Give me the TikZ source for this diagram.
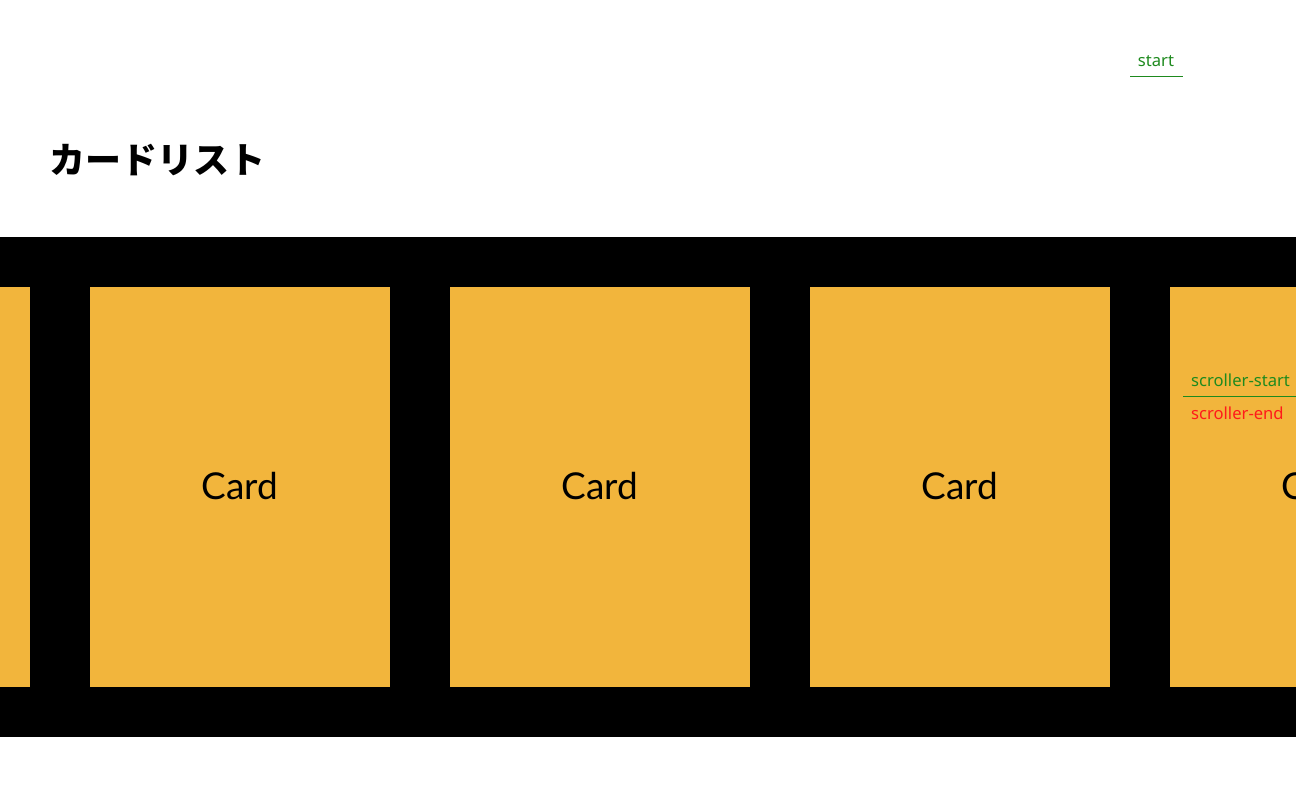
\documentclass[tikz,border=0pt]{standalone}
\usepackage{fontspec}
\newfontfamily\cardfont{Lato}
\newfontfamily\labelfont{Noto Sans}
\newfontfamily\jpfont{Noto Sans CJK JP}
\definecolor{cardorange}{HTML}{F2B53C}
\definecolor{markgreen}{HTML}{1E8A1E}
\definecolor{markred}{HTML}{FF1A1A}
\tikzset{
  card/.style={fill=cardorange, draw=none, minimum width=300pt, minimum height=400pt, inner sep=0pt},
  cardtext/.style={inner sep=0pt, text=black, font=\cardfont\fontsize{37}{37}\selectfont},
  marklabel/.style={inner sep=0pt, anchor=west, font=\labelfont\fontsize{16.6}{17}\selectfont},
  markline/.style={line width=1pt}
}
\begin{document}
\begin{tikzpicture}[x=1pt,y=-1pt]
\useasboundingbox (0,0) rectangle (1296,792);
\fill[white] (0,0) rectangle (1296,792);
\node[anchor=west, inner sep=0pt, font=\jpfont\bfseries\fontsize{36}{37}\selectfont] (title) at (49,160) {カードリスト};
\node[inner sep=0pt, font=\labelfont\fontsize{16.6}{17}\selectfont, text=markgreen] (start) at (1156,61) {start};
\coordinate (startL) at (1130,77);
\coordinate (startR) at (1183,77);
\draw[markline, markgreen] (startL) -- (startR);
\begin{scope}
\clip (0,0) rectangle (1296,792);
\fill[black] (0,237) rectangle (1296,737);
\node[card] (card0) at (-120,487) {};
\node[card] (card1) at (240,487) {};
\node[card] (card2) at (600,487) {};
\node[card] (card3) at (960,487) {};
\node[card] (card4) at (1320,487) {};
\node[cardtext] (t1) at (240,486) {Card};
\node[cardtext] (t2) at (600,486) {Card};
\node[cardtext] (t3) at (960,486) {Card};
\node[cardtext] (t4) at (1320,486) {Card};
\end{scope}
\node[marklabel, text=markgreen] (sstart) at (1191,380) {scroller-start};
\node[marklabel, text=markred] (send) at (1191,413) {scroller-end};
\coordinate (sL) at (1183,396.5);
\coordinate (sR) at (1296,396.5);
\draw[markline, markgreen] (sL) -- (sR);
\end{tikzpicture}
\end{document}
